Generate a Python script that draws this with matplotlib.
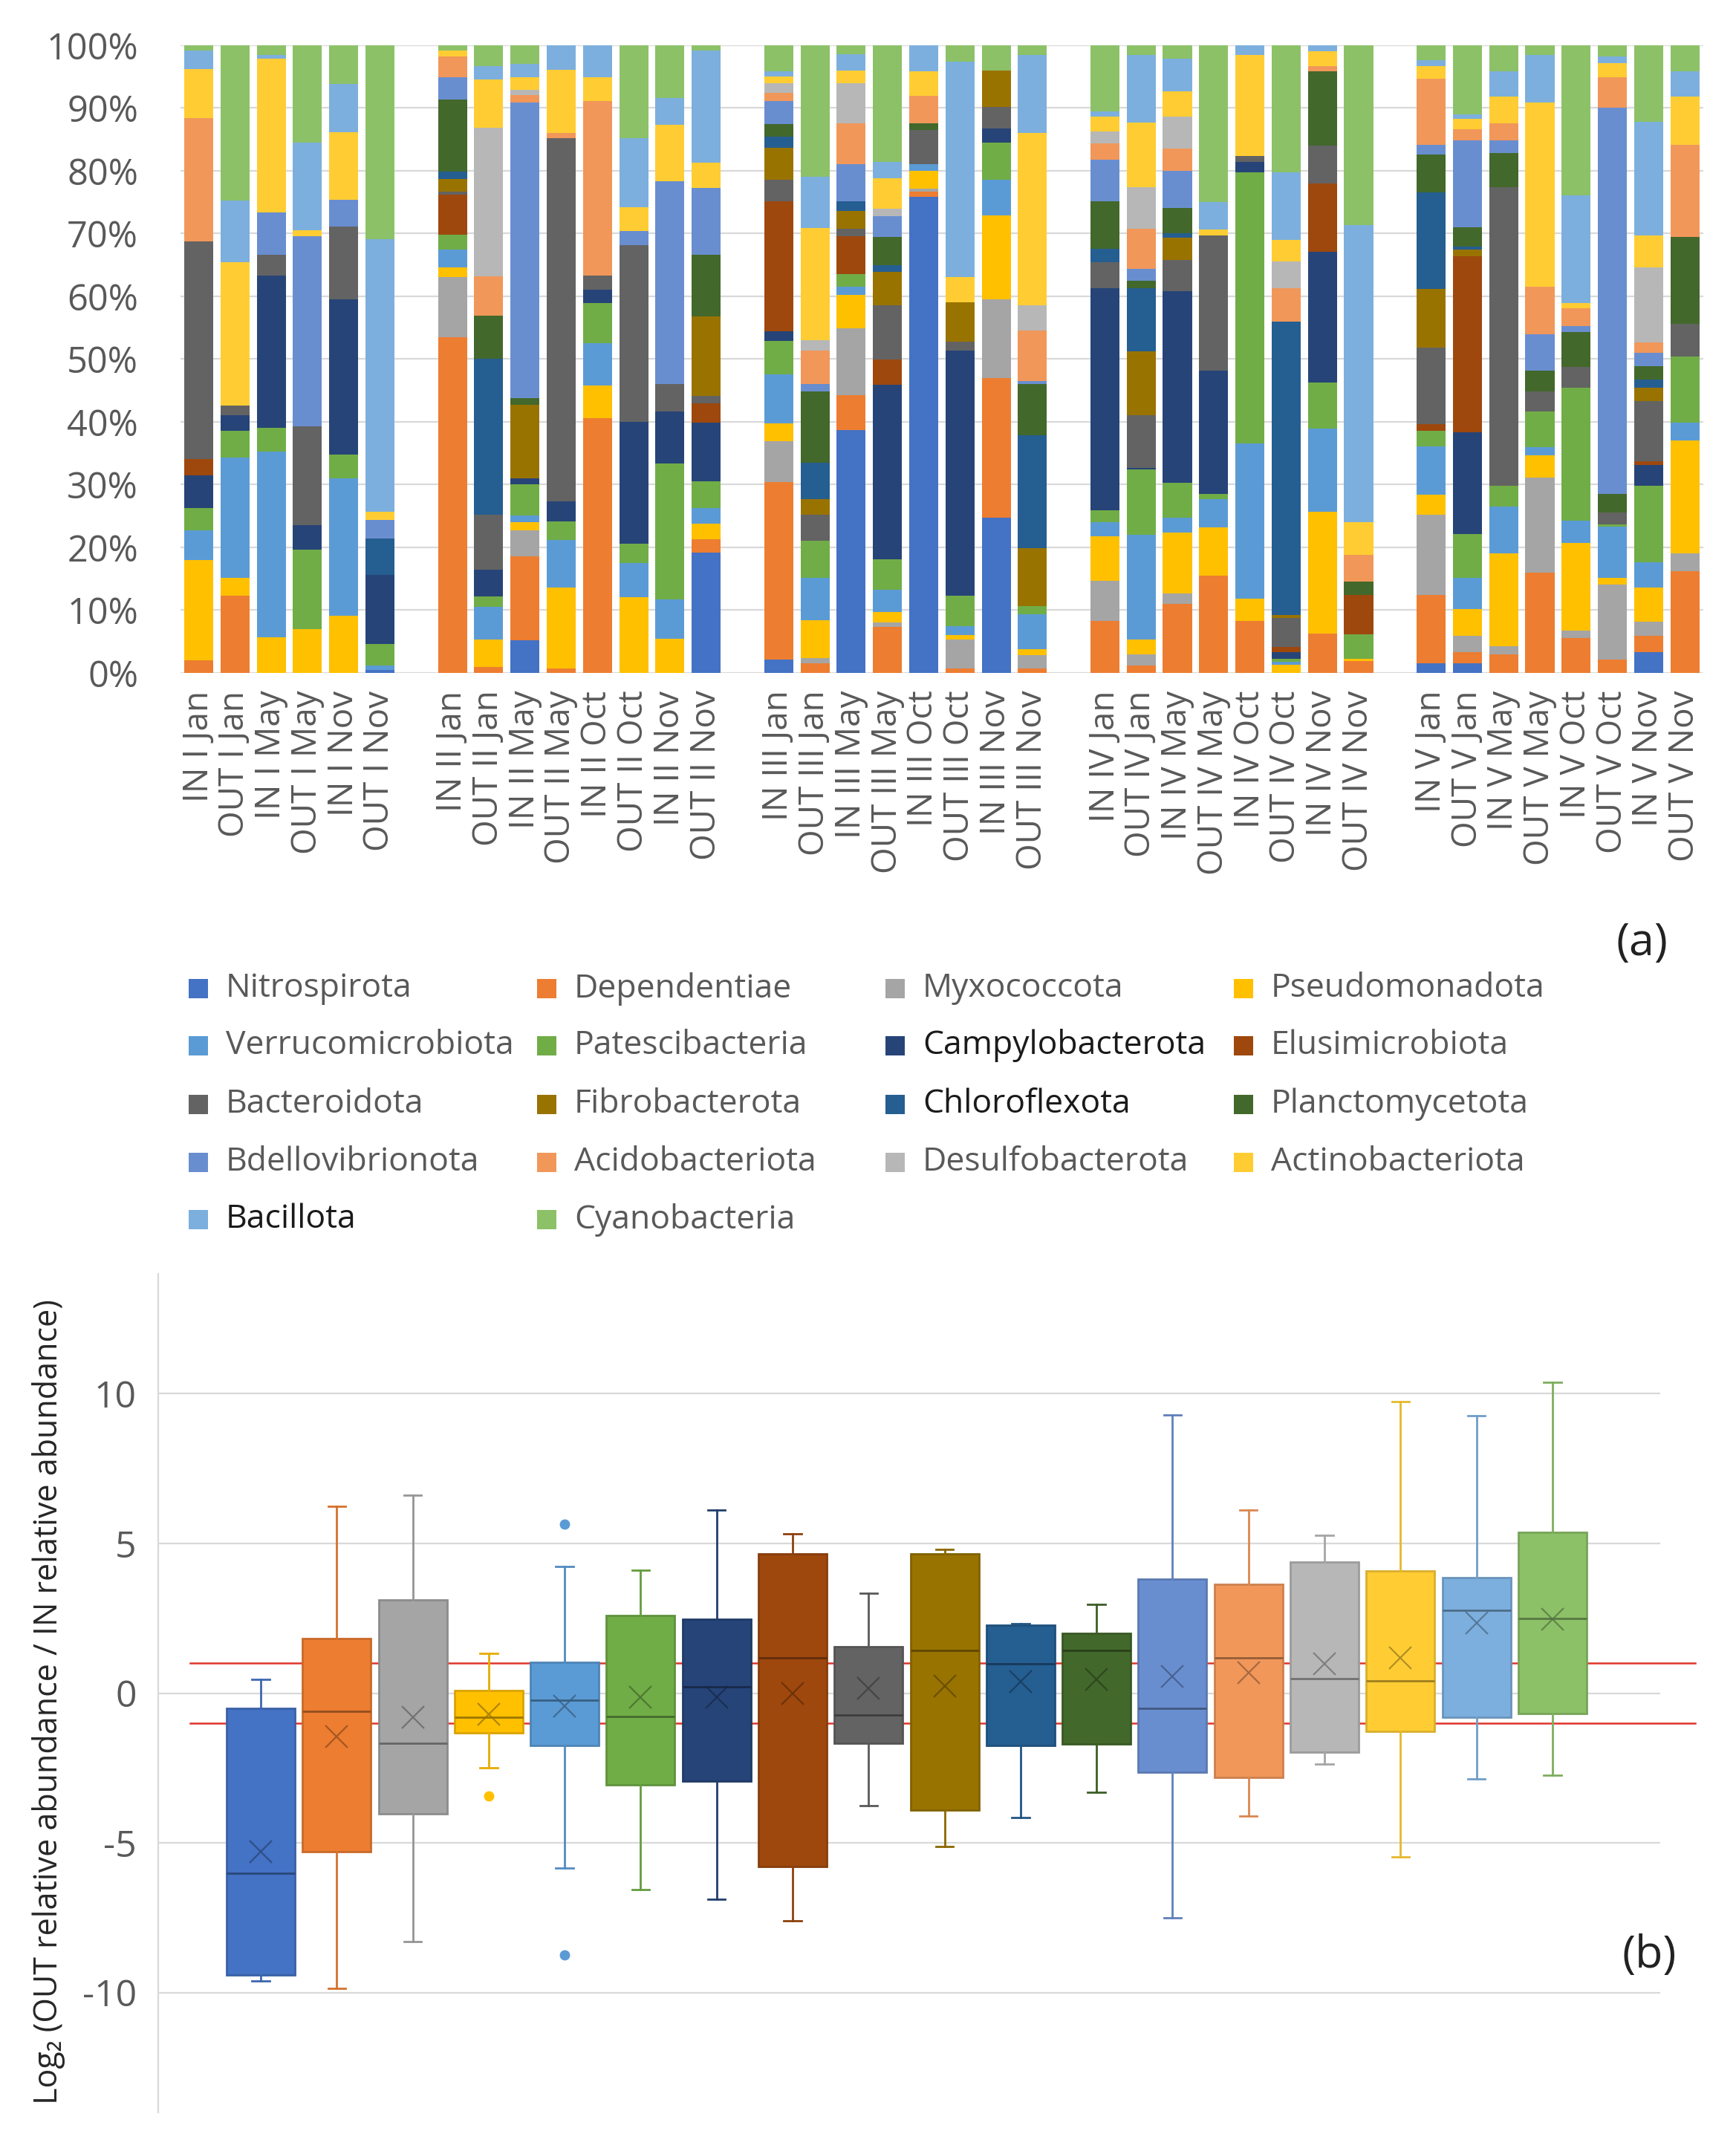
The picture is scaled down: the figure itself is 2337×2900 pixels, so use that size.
import numpy as np
import matplotlib
matplotlib.use("Agg")
import matplotlib.pyplot as plt
import matplotlib.colors as mcolors
from matplotlib.patches import Rectangle
from matplotlib.ticker import PercentFormatter

plt.rcParams["font.family"] = ["Open Sans", "DejaVu Sans"]
plt.rcParams["axes.unicode_minus"] = False

# phyla in stacking / legend order, Excel palette
phyla = ["Nitrospirota", "Dependentiae", "Myxococcota", "Pseudomonadota",
         "Verrucomicrobiota", "Patescibacteria", "Campylobacterota", "Elusimicrobiota",
         "Bacteroidota", "Fibrobacterota", "Chloroflexota", "Planctomycetota",
         "Bdellovibrionota", "Acidobacteriota", "Desulfobacterota", "Actinobacteriota",
         "Bacillota", "Cyanobacteria"]
colors = ["#4472C4", "#ED7D31", "#A5A5A5", "#FFC000", "#5B9BD5", "#70AD47",
          "#264478", "#9E480E", "#636363", "#997300", "#255E91", "#43682B",
          "#698ED0", "#F1975A", "#B7B7B7", "#FFCD33", "#7CAFDD", "#8CC168"]

bar_labels = ["IN I Jan", "OUT I Jan", "IN I May", "OUT I May", "IN I Nov", "OUT I Nov",
              "IN II Jan", "OUT II Jan", "IN II May", "OUT II May",
              "IN II Oct", "OUT II Oct", "IN II Nov", "OUT II Nov",
              "IN III Jan", "OUT III Jan", "IN III May", "OUT III May",
              "IN III Oct", "OUT III Oct", "IN III Nov", "OUT III Nov",
              "IN IV Jan", "OUT IV Jan", "IN IV May", "OUT IV May",
              "IN IV Oct", "OUT IV Oct", "IN IV Nov", "OUT IV Nov",
              "IN V Jan", "OUT V Jan", "IN V May", "OUT V May",
              "IN V Oct", "OUT V Oct", "IN V Nov", "OUT V Nov"]
site_sizes = [6, 8, 8, 8, 8]

# relative abundance (%) per phylum, bars in the order of bar_labels
nitrospirota      = [0, 0, 0, 0, 0, 0.5,  0, 0, 5.2, 0, 0, 0, 0, 19.2,  2.1, 0, 38.7, 0, 75.9, 0, 24.8, 0,  0, 0, 0, 0, 0, 0, 0, 0,  1.5, 1.5, 0, 0, 0, 0, 3.3, 0]
dependentiae      = [2, 12.3, 0, 0, 0, 0,  53.4, 0.9, 13.4, 0.7, 40.5, 0, 0, 2.1,  28.3, 1.5, 5.6, 7.3, 0.8, 0.7, 22.2, 0.7,  8.3, 1.2, 11, 15.5, 8.3, 0, 6.3, 1.9,  10.9, 1.8, 3, 16, 5.6, 2.1, 2.6, 16.2]
myxococcota       = [0, 0, 0, 0, 0, 0,  9.6, 0, 4.2, 0, 0, 0, 0, 0,  6.6, 0.9, 10.6, 0.7, 0.5, 4.6, 12.6, 2.1,  6.4, 1.8, 1.7, 0, 0, 0, 0, 0,  12.8, 2.6, 1.3, 15.1, 1.1, 12, 2.3, 2.8]
pseudomonadota    = [16, 2.9, 5.7, 7.0, 9.1, 0,  1.6, 4.4, 1.3, 12.9, 5.3, 12.1, 5.4, 2.5,  2.8, 6.0, 5.3, 1.7, 2.8, 0.7, 13.4, 1.0,  7.1, 2.3, 9.7, 7.7, 3.5, 1.3, 19.4, 0.3,  3.2, 4.3, 14.7, 3.6, 14, 1.1, 5.4, 18]
verrucomicrobiota = [4.7, 19.1, 29.5, 0, 21.9, 0.7,  2.8, 5.2, 1.0, 7.6, 6.7, 5.4, 6.3, 2.5,  7.8, 6.8, 1.3, 3.6, 1.0, 1.5, 5.6, 5.5,  2.3, 16.7, 2.3, 4.5, 24.8, 0.5, 13.2, 0,  7.7, 5.0, 7.5, 1.3, 3.6, 8.1, 4.0, 2.8]
patescibacteria   = [3.6, 4.3, 3.9, 12.6, 3.8, 3.4,  2.4, 1.7, 5.0, 3.0, 6.4, 3.1, 21.6, 4.3,  5.4, 5.8, 2.1, 4.8, 0, 4.8, 6.0, 1.3,  1.8, 10.4, 5.6, 0.8, 43.1, 0.5, 7.4, 3.9,  2.5, 6.9, 3.3, 5.6, 21.2, 0.4, 12.2, 10.6]
campylobacterota  = [5.2, 2.5, 24.2, 3.9, 24.6, 11,  0, 4.2, 1.0, 3.2, 2.1, 19.4, 8.3, 9.3,  1.5, 0, 0, 27.8, 0, 39, 2.2, 0,  35.4, 0.3, 30.6, 19.7, 1.7, 1.0, 20.8, 0,  0, 16.2, 0, 0, 0, 0, 3.3, 0]
elusimicrobiota   = [2.6, 0, 0, 0, 0, 0,  6.3, 0, 0, 0, 0, 0, 0, 3.1,  20.7, 0, 6.0, 4.0, 0, 0, 0, 0,  0, 0, 0, 0, 0, 0.9, 10.9, 6.3,  1.0, 28.1, 0, 0, 0, 0, 0.5, 0]
bacteroidota      = [34.6, 1.5, 3.3, 15.8, 11.6, 0,  0.5, 8.8, 0, 57.9, 2.2, 28.1, 4.4, 1.2,  3.5, 4.2, 1.2, 8.7, 5.5, 1.5, 3.5, 0,  4.2, 8.4, 5.0, 21.5, 1.0, 4.6, 6.0, 0,  12.2, 0, 47.6, 3.3, 3.3, 1.8, 9.6, 5.1]
fibrobacterota    = [0, 0, 0, 0, 0, 0,  2.0, 0, 11.7, 0, 0, 0, 0, 12.7,  5.1, 2.5, 2.8, 5.3, 0, 6.3, 5.8, 9.3,  0, 10.1, 3.5, 0, 0, 0.4, 0, 0,  9.4, 1.0, 0, 0, 0, 0, 2.2, 0]
chloroflexota     = [0, 0, 0, 0, 0, 5.8,  1.2, 24.8, 0, 0, 0, 0, 0, 0,  1.7, 5.8, 1.5, 1.1, 0, 0, 0, 18,  2.1, 10.1, 0.7, 0, 0, 46.8, 0, 0,  15.4, 0.5, 0, 0, 0, 0, 1.3, 0]
planctomycetota   = [0, 0, 0, 0, 0, 0,  11.4, 6.9, 1.1, 0, 0, 0, 0, 9.8,  2.0, 11.4, 0, 4.5, 1.1, 0, 0, 8.1,  7.6, 1.2, 4.0, 0, 0, 0, 11.9, 2.1,  6.0, 3.1, 5.4, 3.2, 5.6, 3.0, 2.1, 13.9]
bdellovibrionota  = [0, 0, 6.8, 30.3, 4.3, 3.0,  3.6, 0, 47.2, 0, 0, 2.3, 32.3, 10.7,  3.7, 1.1, 6.0, 3.3, 0, 0, 0, 0.5,  6.7, 1.9, 6.0, 0, 0, 0, 0, 0,  1.5, 13.9, 2.0, 5.8, 0.9, 61.6, 2.1, 0]
acidobacteriota   = [19.7, 0, 0, 0, 0, 0,  3.3, 6.2, 1.1, 0.8, 27.8, 0, 0, 0,  1.3, 5.4, 6.5, 0, 4.3, 0, 0, 8.1,  2.6, 6.4, 3.5, 0, 0, 5.3, 0.8, 4.3,  10.6, 1.7, 2.8, 7.6, 2.8, 4.8, 1.7, 14.7]
desulfobacterota  = [0, 0, 0, 0, 0, 0,  0, 23.7, 0.9, 0, 0, 0, 0, 0,  1.5, 1.6, 6.4, 1.2, 0, 0, 0, 4.0,  1.9, 6.6, 5.1, 0, 0, 4.3, 0, 0,  0, 0, 0, 0, 0, 0, 11.9, 0]
actinobacteriota  = [7.8, 22.8, 24.5, 0.9, 10.7, 1.3,  1.0, 7.7, 2.0, 10.1, 3.8, 3.8, 8.9, 4.0,  1.1, 17.9, 2.0, 4.8, 4.0, 4.0, 0, 27.4,  2.3, 10.3, 4.0, 0.9, 16.1, 3.4, 2.4, 5.2,  2.0, 1.7, 4.2, 29.4, 0.9, 2.2, 5.1, 7.6]
bacillota         = [3.0, 9.9, 0.5, 14.0, 7.8, 43.4,  0, 2.1, 2.1, 3.9, 5.1, 11.0, 4.3, 17.9,  0.9, 8.1, 2.6, 2.6, 4.1, 34.3, 0, 12.4,  0.8, 10.8, 5.3, 4.4, 1.5, 10.8, 0.9, 47.4,  0.9, 0.7, 4.0, 7.5, 17.2, 1.1, 18.0, 4.1]
cyanobacteria     = [0.8, 24.7, 1.6, 15.5, 6.1, 30.9,  0.8, 3.3, 3.0, 0, 0, 14.8, 8.4, 0.8,  4.1, 21.0, 1.4, 18.6, 0, 2.6, 4.0, 1.6,  10.6, 1.5, 2.1, 25.0, 0, 20.3, 0, 28.6,  2.4, 11.0, 4.2, 1.6, 23.9, 1.8, 12.2, 4.1]

abundance = [nitrospirota, dependentiae, myxococcota, pseudomonadota, verrucomicrobiota,
             patescibacteria, campylobacterota, elusimicrobiota, bacteroidota, fibrobacterota,
             chloroflexota, planctomycetota, bdellovibrionota, acidobacteriota,
             desulfobacterota, actinobacteriota, bacillota, cyanobacteria]

# log2(OUT/IN) box statistics, one value per phylum
box_whislo = [-9.62, -9.85, -8.3, -2.5, -5.83, -6.57, -6.89, -7.6, -3.75,
              -5.11, -4.15, -3.3, -7.5, -4.11, -2.37, -5.47, -2.86, -2.73]
box_q1 = [-9.41, -5.3, -4.02, -1.33, -1.74, -3.05, -2.95, -5.8, -1.67,
          -3.9, -1.74, -1.7, -2.65, -2.82, -1.97, -1.27, -0.81, -0.68]
box_med = [-6.02, -0.61, -1.67, -0.8, -0.23, -0.78, 0.21, 1.17, -0.72,
           1.42, 0.98, 1.42, -0.51, 1.17, 0.49, 0.4, 2.77, 2.5]
box_q3 = [-0.51, 1.82, 3.11, 0.09, 1.02, 2.59, 2.46, 4.66, 1.55,
          4.66, 2.27, 1.99, 3.81, 3.64, 4.39, 4.07, 3.86, 5.36]
box_whishi = [0.47, 6.25, 6.61, 1.34, 4.22, 4.11, 6.12, 5.32, 3.33,
              4.79, 2.33, 2.97, 9.28, 6.12, 5.27, 9.73, 9.26, 10.38]
box_mean = [-5.3, -1.44, -0.81, -0.7, -0.44, -0.13, -0.13, 0.0, 0.15,
            0.23, 0.38, 0.45, 0.55, 0.68, 0.97, 1.19, 2.35, 2.46]
box_outliers = [[], [], [], [-3.43], [5.64, -8.75], [], [], [], [],
                [], [], [], [], [], [], [], [], []]
threshold = 1.0

tick_gray = "#595959"
grid_gray = "#D9D9D9"


def shade(c, f):
    return tuple(np.array(mcolors.to_rgb(c)) * f)


fig = plt.figure(figsize=(23.37, 29.0), dpi=100)

# ---------------- (a) stacked relative abundance ----------------
ax = fig.add_axes([0.104, 0.6876, 0.877, 0.2914])

bar_pos = []
slot = 0
for size in site_sizes:
    bar_pos.extend(range(slot, slot + size))
    slot += size + 1
bar_pos = np.array(bar_pos)

data = np.array(abundance, dtype=float)
data = data / data.sum(axis=0)
bottom = np.zeros(len(bar_labels))
for color, vals in zip(colors, data):
    ax.bar(bar_pos, vals, 0.8, bottom=bottom, color=color, linewidth=0, zorder=2)
    bottom += vals

ax.set_xlim(-0.5, bar_pos[-1] + 0.5)
ax.set_ylim(0, 1)
ax.set_yticks(np.arange(0, 1.01, 0.1))
ax.yaxis.set_major_formatter(PercentFormatter(1.0, decimals=0))
ax.set_xticks(bar_pos)
ax.set_xticklabels(bar_labels, rotation=90, ha="center", va="top")
ax.tick_params(axis="y", length=0, pad=41, labelsize=35, labelcolor=tick_gray)
ax.tick_params(axis="x", length=0, pad=17, labelsize=33, labelcolor=tick_gray)
ax.grid(axis="y", color=grid_gray, linewidth=1.6, zorder=0)
for s in ax.spines.values():
    s.set_visible(False)

fig.text(0.946, 1 - 1270 / 2900, "(a)", fontsize=44, color="#222222",
         ha="center", va="center")

# legend, filled row by row in four columns
col_x = [254, 723, 1192, 1661]
row_y = [1331, 1408, 1487, 1565, 1642]
dark_labels = {"Campylobacterota", "Chloroflexota", "Bacillota"}
for i, (name, color) in enumerate(zip(phyla, colors)):
    r, c = divmod(i, 4)
    x0 = col_x[c] / 2337
    yc = 1 - row_y[r] / 2900
    fig.add_artist(Rectangle((x0, yc - 13 / 2900), 26 / 2337, 26 / 2900,
                             transform=fig.transFigure, facecolor=color,
                             edgecolor="none"))
    fig.text(x0 + 50 / 2337, yc, name, fontsize=32, va="center", ha="left",
             color="#1a1a1a" if name in dark_labels else tick_gray)

# ---------------- (b) log2 OUT/IN box plot ----------------
axb = fig.add_axes([0.0911, 0.0193, 0.8653, 0.3893])
stats = []
for i in range(len(phyla)):
    stats.append(dict(whislo=box_whislo[i], q1=box_q1[i], med=box_med[i],
                      q3=box_q3[i], whishi=box_whishi[i], mean=box_mean[i],
                      fliers=box_outliers[i], label=phyla[i]))
positions = np.arange(1, len(phyla) + 1)
bp = axb.bxp(stats, positions=positions, widths=0.9, capwidths=0.23,
             patch_artist=True, showmeans=True, zorder=3)

for i, color in enumerate(colors):
    bp["boxes"][i].set(facecolor=color, edgecolor=shade(color, 0.85), linewidth=2)
    bp["medians"][i].set(color=shade(color, 0.62), linewidth=2)
    for w in bp["whiskers"][2 * i:2 * i + 2]:
        w.set(color=shade(color, 0.9), linewidth=2)
    for cp in bp["caps"][2 * i:2 * i + 2]:
        cp.set(color=shade(color, 0.9), linewidth=2)
    bp["means"][i].set(marker="x", markersize=22, markeredgewidth=1.6,
                       markeredgecolor=shade(color, 0.6), alpha=0.75)
    bp["fliers"][i].set(marker="o", markersize=9, markerfacecolor=color,
                        markeredgecolor=color)

for y in (threshold, -threshold):
    axb.plot([0.07, 19.88], [y, y], color="#E0352B", linewidth=1.8,
             zorder=1, clip_on=False)

axb.set_xlim(-0.35, 19.42)
axb.set_ylim(-14, 14)
axb.set_yticks([-10, -5, 0, 5, 10])
axb.set_xticks([])
axb.grid(axis="y", color=grid_gray, linewidth=1.6, zorder=0)
axb.tick_params(axis="y", length=0, pad=21, labelsize=36, labelcolor=tick_gray)
for side in ("top", "right", "bottom"):
    axb.spines[side].set_visible(False)
axb.spines["left"].set_color(grid_gray)
axb.spines["left"].set_linewidth(1.6)
axb.set_ylabel("Log\u2082 (OUT relative abundance / IN relative abundance)",
               fontsize=31, color="#262626")
axb.yaxis.set_label_coords(-0.062, 0.49)

fig.text(0.95, 1 - 2633 / 2900, "(b)", fontsize=44, color="#222222",
         ha="center", va="center")

fig.savefig("out.png", dpi=100)
